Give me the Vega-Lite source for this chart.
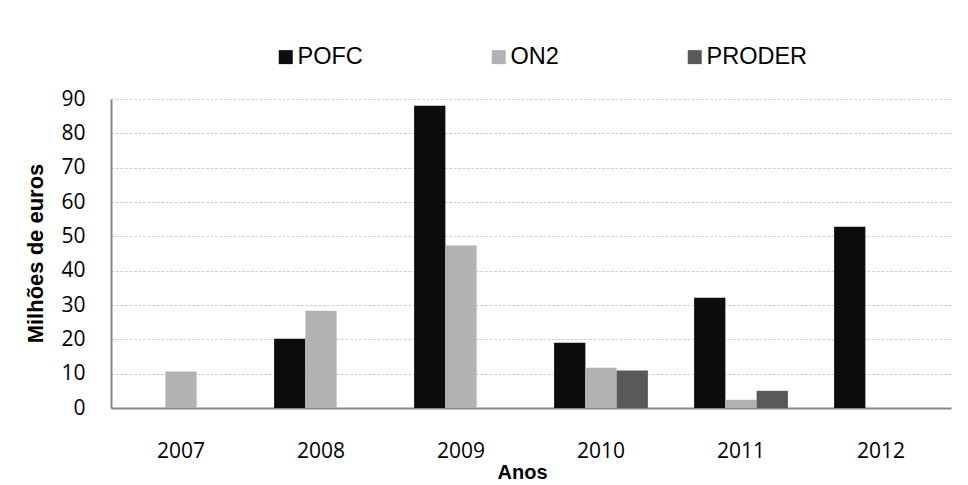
{
  "$schema": "https://vega.github.io/schema/vega-lite/v6.json",
  "width": 840,
  "height": 309,
  "autosize": {"type": "none"},
  "padding": {"left": 111, "top": 99, "right": 17, "bottom": 77},
  "background": "white",
  "config": {
    "view": {"stroke": null},
    "axis": {"labelColor": "#000000", "titleColor": "#000000"}
  },
  "data": {
    "values": [
      {"ano": "2007", "programa": "ON2", "valor": 10.6},
      {"ano": "2008", "programa": "POFC", "valor": 20.2},
      {"ano": "2008", "programa": "ON2", "valor": 28.3},
      {"ano": "2009", "programa": "POFC", "valor": 88.0},
      {"ano": "2009", "programa": "ON2", "valor": 47.3},
      {"ano": "2010", "programa": "POFC", "valor": 19.0},
      {"ano": "2010", "programa": "ON2", "valor": 11.7},
      {"ano": "2010", "programa": "PRODER", "valor": 10.9},
      {"ano": "2011", "programa": "POFC", "valor": 32.1},
      {"ano": "2011", "programa": "ON2", "valor": 2.4},
      {"ano": "2011", "programa": "PRODER", "valor": 5.0},
      {"ano": "2012", "programa": "POFC", "valor": 52.8}
    ]
  },
  "mark": {"type": "bar"},
  "encoding": {
    "x": {
      "field": "ano",
      "type": "nominal",
      "sort": ["2007", "2008", "2009", "2010", "2011", "2012"],
      "scale": {"paddingInner": 0.33, "paddingOuter": 0.165},
      "axis": {
        "title": "Anos",
        "labelAngle": 0,
        "labelFont": "Open Sans",
        "labelFontSize": 21,
        "labelBaseline": "middle",
        "labelPadding": 43,
        "ticks": false,
        "tickSize": 0,
        "domainColor": "#868686",
        "domainWidth": 2,
        "grid": false,
        "titleFont": "Liberation Sans",
        "titleFontSize": 20,
        "titleFontWeight": "bold",
        "titleBaseline": "alphabetic",
        "titleX": 411,
        "titleY": 70
      }
    },
    "xOffset": {
      "field": "programa",
      "type": "nominal",
      "sort": ["POFC", "ON2", "PRODER"],
      "scale": {"domain": ["POFC", "ON2", "PRODER"], "paddingInner": 0, "paddingOuter": 0}
    },
    "y": {
      "field": "valor",
      "type": "quantitative",
      "scale": {"domain": [0, 90], "nice": false},
      "axis": {
        "title": "Milhões de euros",
        "values": [0, 10, 20, 30, 40, 50, 60, 70, 80, 90],
        "labelFont": "Open Sans",
        "labelFontSize": 21,
        "labelPadding": 26,
        "ticks": false,
        "tickSize": 0,
        "domainColor": "#868686",
        "domainWidth": 2,
        "grid": true,
        "gridColor": "#d0d0d0",
        "gridDash": [3, 1.5],
        "gridWidth": 1,
        "titleFont": "Liberation Sans",
        "titleFontSize": 22,
        "titleFontWeight": "bold",
        "titleBaseline": "alphabetic",
        "titleX": -69,
        "titleY": 154,
        "titleAngle": -90
      }
    },
    "color": {
      "field": "programa",
      "type": "nominal",
      "scale": {"domain": ["POFC", "ON2", "PRODER"], "range": ["#0d0d0d", "#b2b2b2", "#595959"]},
      "legend": {
        "title": null,
        "orient": "none",
        "direction": "horizontal",
        "legendX": 163,
        "legendY": -54,
        "padding": 0,
        "symbolType": "square",
        "symbolSize": 196,
        "symbolStrokeWidth": 0,
        "labelFont": "Liberation Sans",
        "labelFontSize": 23.5,
        "labelColor": "#000000",
        "labelOffset": 0,
        "columnPadding": 124
      }
    }
  }
}
